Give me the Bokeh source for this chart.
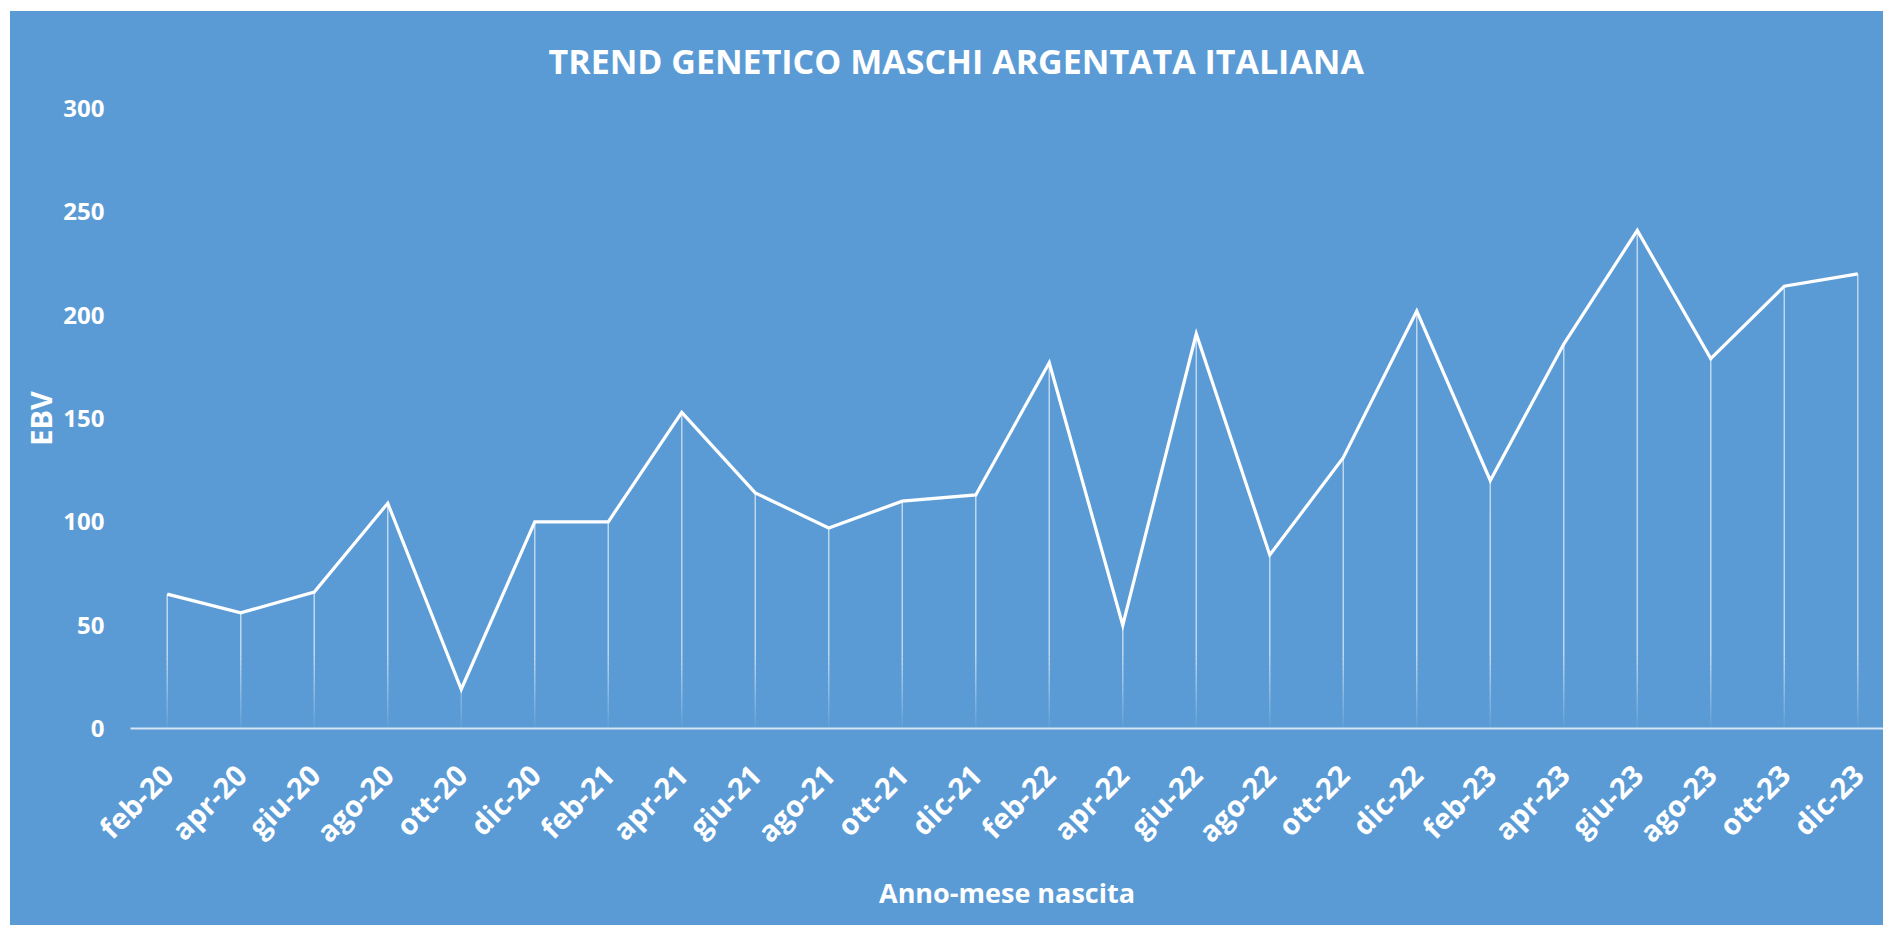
import math
from bokeh.plotting import figure
from bokeh.models import FixedTicker, ColumnDataSource, Spacer
from bokeh.layouts import column, row
from bokeh.embed import file_html
from bokeh.resources import INLINE

# ---- data ----
months = ["feb-20", "apr-20", "giu-20", "ago-20", "ott-20", "dic-20",
          "feb-21", "apr-21", "giu-21", "ago-21", "ott-21", "dic-21",
          "feb-22", "apr-22", "giu-22", "ago-22", "ott-22", "dic-22",
          "feb-23", "apr-23", "giu-23", "ago-23", "ott-23", "dic-23"]
ebv = [65, 56, 66, 109, 19, 100,
       100, 153, 114, 97, 110, 113,
       177, 50, 191, 84, 131, 202,
       120, 186, 241, 179, 214, 220]
y_ticks = [0, 50, 100, 150, 200, 250, 300]
title_text = "TREND GENETICO MASCHI ARGENTATA ITALIANA"
x_title = "Anno-mese nascita"
y_title = "EBV"

BG = "#5B9BD5"
FONT = "Open Sans"

xs = list(range(len(months)))

p = figure(width=1873, height=914, output_backend="svg", toolbar_location=None,
           x_range=(-0.5, 23.35), y_range=(0, 300),
           min_border_left=120, min_border_right=0, min_border_top=95,
           min_border_bottom=197)
p.background_fill_color = BG
p.border_fill_color = BG
p.outline_line_color = None
p.styles = {"background-color": BG}
p.xgrid.grid_line_color = None
p.ygrid.grid_line_color = None

# title
p.title.text = title_text
p.title.align = "left"
p.title.offset = 418
p.title.standoff = 49
p.title.text_color = "white"
p.title.text_font = FONT
p.title.text_font_style = "bold"
p.title.text_font_size = "34px"

# drop lines with fading towards the bottom
fade_top = 35.0
step = 2.5
sx0, sy0, sy1, salpha = [], [], [], []
for xi, v in zip(xs, ebv):
    lo = 0.0
    while lo < v:
        hi = min(v, lo + step) if lo < fade_top else v
        mid = (lo + hi) / 2.0
        a = 0.6 if lo >= fade_top else 0.03 + 0.57 * (mid / fade_top)
        sx0.append(xi); sy0.append(lo); sy1.append(hi); salpha.append(a)
        lo = hi
drop_src = ColumnDataSource(dict(x=sx0, y0=sy0, y1=sy1, a=salpha))
p.segment(x0="x", y0="y0", x1="x", y1="y1", source=drop_src,
          line_color="white", line_alpha="a", line_width=1.5)

p.line(xs, ebv, line_color="white", line_width=3.2, line_join="miter")

# axes
p.xaxis.ticker = FixedTicker(ticks=xs)
p.xaxis.major_label_overrides = {i: m for i, m in zip(xs, months)}
p.xaxis.major_label_orientation = math.pi / 4
p.xaxis.major_tick_line_color = None
p.xaxis.minor_tick_line_color = None
p.xaxis.major_tick_out = 0
p.xaxis.axis_line_color = "#d6e6f6"
p.xaxis.axis_line_width = 2
p.xaxis.major_label_standoff = 41
p.xaxis.major_label_text_color = "white"
p.xaxis.major_label_text_font = FONT
p.xaxis.major_label_text_font_style = "bold"
p.xaxis.major_label_text_font_size = "29px"
p.xaxis.axis_label = x_title
p.xaxis.axis_label_text_color = "white"
p.xaxis.axis_label_text_font = FONT
p.xaxis.axis_label_text_font_style = "bold"
p.xaxis.axis_label_text_font_size = "27px"
p.xaxis.axis_label_standoff = 7

p.yaxis.ticker = FixedTicker(ticks=y_ticks)
p.yaxis.axis_line_color = None
p.yaxis.major_tick_line_color = None
p.yaxis.minor_tick_line_color = None
p.yaxis.major_tick_out = 0
p.yaxis.major_label_standoff = 26
p.yaxis.major_label_text_color = "white"
p.yaxis.major_label_text_font = FONT
p.yaxis.major_label_text_font_style = "bold"
p.yaxis.major_label_text_font_size = "24px"
p.yaxis.axis_label = y_title
p.yaxis.axis_label_text_color = "white"
p.yaxis.axis_label_text_font = FONT
p.yaxis.axis_label_text_font_style = "bold"
p.yaxis.axis_label_text_font_size = "29px"
p.yaxis.axis_label_standoff = 0

layout = column(Spacer(height=11), row(Spacer(width=10), p))

open("out.html", "w").write(file_html(layout, INLINE))
